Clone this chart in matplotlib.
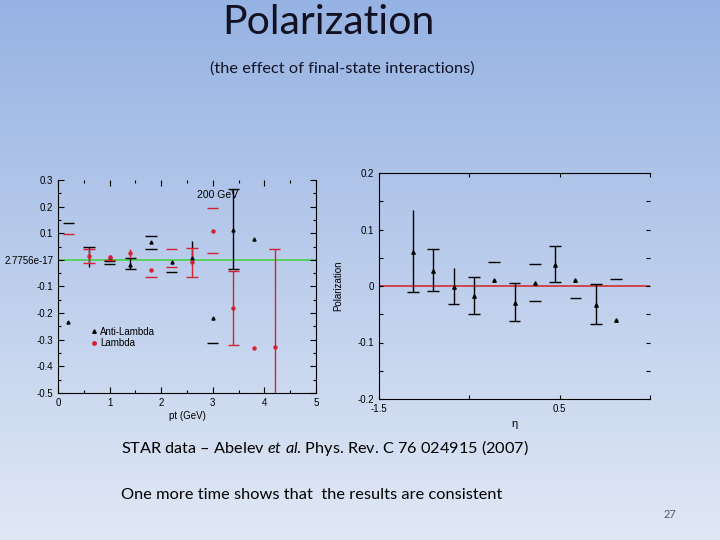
import numpy as np
import matplotlib
matplotlib.use("Agg")
import matplotlib.pyplot as plt
from matplotlib.lines import Line2D
from matplotlib.ticker import FixedLocator, FuncFormatter

# ---- left panel: polarization vs pt (200 GeV) ----
# Anti-Lambda (black triangles)
alam_x = [0.2, 1.0, 1.4, 1.8, 2.2, 2.6, 3.0, 3.4, 3.8]
alam_y = [-0.233, 0.012, -0.019, 0.069, -0.009, 0.006, -0.220, 0.113, 0.079]
alam_bar_x = [0.6, 1.4, 2.6, 3.4]
alam_bar_lo = [-0.026, -0.034, 0.006, -0.035]
alam_bar_hi = [0.048, 0.006, 0.071, 0.265]
alam_cap_x = [0.2, 0.6, 1.0, 1.0, 1.4, 1.4, 1.8, 1.8, 2.2, 3.0, 3.4, 3.4]
alam_cap_y = [0.140, 0.048, -0.004, -0.015, 0.006, -0.034, 0.091, 0.041,
              -0.045, -0.312, 0.265, -0.035]

# Lambda (red dots)
lam_x = [0.6, 1.0, 1.4, 1.8, 2.6, 3.0, 3.4, 3.8, 4.2]
lam_y = [0.016, 0.010, 0.025, -0.038, -0.009, 0.109, -0.182, -0.330, -0.329]
lam_bar_x = [0.6, 1.4, 2.6, 3.4, 4.2]
lam_bar_lo = [-0.011, 0.006, -0.063, -0.320, -0.600]
lam_bar_hi = [0.041, 0.041, 0.044, -0.040, 0.041]
lam_cap_x = [0.2, 0.6, 0.6, 1.0, 1.8, 2.2, 2.2, 2.6, 2.6, 3.0, 3.0, 3.4, 3.4, 4.2]
lam_cap_y = [0.096, 0.041, -0.011, -0.002, -0.063, 0.041, -0.027, 0.044,
             -0.063, 0.193, 0.025, -0.040, -0.320, 0.041]

left_yticks = [0.3, 0.2, 0.1, 0.0, -0.1, -0.2, -0.3, -0.4, -0.5]

# ---- right panel: polarization vs eta ----
eta = [-1.125, -0.9, -0.675, -0.45, -0.225, 0.0, 0.225, 0.45, 0.675, 0.9, 1.125]
pol = [0.061, 0.027, -0.001, -0.018, 0.010, -0.030, 0.006, 0.037, 0.010, -0.034, -0.060]
eta_bar_x = [-1.125, -0.9, -0.675, -0.45, 0.0, 0.45, 0.9]
eta_bar_lo = [-0.011, -0.009, -0.032, -0.050, -0.062, 0.007, -0.068]
eta_bar_hi = [0.135, 0.065, 0.032, 0.016, 0.005, 0.071, 0.004]
eta_cap_x = [-1.125, -0.9, -0.9, -0.675, -0.45, -0.45, -0.225, 0.0, 0.0,
             0.225, 0.225, 0.45, 0.45, 0.675, 0.9, 0.9, 1.125]
eta_cap_y = [-0.011, 0.065, -0.009, -0.032, 0.016, -0.050, 0.042, 0.005, -0.062,
             0.039, -0.027, 0.071, 0.007, -0.021, 0.004, -0.068, 0.013]

RED = "#d42232"
SLIDE_FONT = ["Lato", "DejaVu Sans"]
plt.rcParams["font.family"] = ["Liberation Sans", "DejaVu Sans"]
plt.rcParams["mathtext.fontset"] = "custom"
plt.rcParams["mathtext.rm"] = "Lato"
plt.rcParams["mathtext.it"] = "Lato:italic"

fig = plt.figure(figsize=(7.2, 5.4), dpi=100)

# slide background gradient
bg = fig.add_axes([0, 0, 1, 1], zorder=-10)
grad = np.linspace(0, 1, 256).reshape(-1, 1)
top = np.array([0.59, 0.70, 0.89])
bot = np.array([0.88, 0.91, 0.96])
img = top + (bot - top) * grad[:, :, None]
bg.imshow(img, aspect="auto", extent=[0, 1, 0, 1])
bg.axis("off")

# ---------- left axes ----------
ax1 = fig.add_axes([58 / 720, 1 - 393 / 540, 258 / 720, 213 / 540])
ax1.patch.set_alpha(0)
ax1.set_xlim(0, 5)
ax1.set_ylim(-0.5, 0.3)
ax1.axhline(0, color="#3cd23c", lw=1.1, zorder=1)

w = 0.22
ax1.vlines(alam_bar_x, alam_bar_lo, alam_bar_hi, color="black", lw=1)
ax1.hlines(alam_cap_y, np.array(alam_cap_x) - w / 2, np.array(alam_cap_x) + w / 2,
           color="black", lw=1)
ax1.vlines(lam_bar_x, lam_bar_lo, lam_bar_hi, color=RED, lw=1)
ax1.hlines(lam_cap_y, np.array(lam_cap_x) - w / 2, np.array(lam_cap_x) + w / 2,
           color=RED, lw=1)
ax1.plot(alam_x, alam_y, "^", color="black", ms=2.2, ls="none")
ax1.plot(lam_x, lam_y, "o", color=RED, ms=2.2, ls="none")

ax1.text(2.69, 0.244, "200 GeV", fontsize=7.5, ha="left", va="center")

ax1.spines["top"].set_visible(False)
ax1.yaxis.set_major_locator(FixedLocator(left_yticks))
ax1.yaxis.set_minor_locator(FixedLocator(np.arange(-0.45, 0.3, 0.1)))
ax1.yaxis.set_major_formatter(FuncFormatter(
    lambda v, p: "2.7756e-17" if abs(v) < 1e-9 else f"{v:.1f}"))
ax1.xaxis.set_major_locator(FixedLocator([0, 1, 2, 3, 4, 5]))
ax1.xaxis.set_minor_locator(FixedLocator(np.arange(0.5, 5, 1.0)))
ax1.tick_params(axis="both", which="both", direction="in", labelsize=7,
                top=True, right=True, width=0.8)
ax1.tick_params(which="major", length=4)
ax1.tick_params(which="minor", length=2)
ax1.set_xlabel("pt (GeV)", fontsize=7, labelpad=2)

handles = [Line2D([], [], marker="^", color="black", ls="none", ms=2.5),
           Line2D([], [], marker="o", color=RED, ls="none", ms=2.5)]
ax1.legend(handles, ["Anti-Lambda", "Lambda"], loc="upper left",
           bbox_to_anchor=(0.11, 0.335), frameon=False, fontsize=7,
           handlelength=0.6, handletextpad=0.3, labelspacing=0.15,
           borderpad=0)

# ---------- right axes ----------
ax2 = fig.add_axes([379 / 720, 1 - 399 / 540, 271 / 720, 226 / 540])
ax2.patch.set_alpha(0)
ax2.set_xlim(-1.5, 1.5)
ax2.set_ylim(-0.2, 0.2)
ax2.axhline(0, color="#d42020", lw=1.1, zorder=1)

w2 = 0.13
ax2.vlines(eta_bar_x, eta_bar_lo, eta_bar_hi, color="black", lw=1)
ax2.hlines(eta_cap_y, np.array(eta_cap_x) - w2 / 2, np.array(eta_cap_x) + w2 / 2,
           color="black", lw=1)
ax2.plot(eta, pol, "^", color="black", ms=2.5, ls="none")

ax2.spines["right"].set_visible(False)
ax2.yaxis.set_major_locator(FixedLocator([-0.2, -0.1, 0, 0.1, 0.2]))
ax2.yaxis.set_minor_locator(FixedLocator([-0.15, -0.05, 0.05, 0.15]))
ax2.yaxis.set_major_formatter(FuncFormatter(lambda v, p: f"{v:g}"))
ax2.xaxis.set_major_locator(FixedLocator([-1.5, -0.5, 0.5, 1.5]))
ax2.xaxis.set_major_formatter(FuncFormatter(
    lambda v, p: f"{v:g}" if v in (-1.5, 0.5) else ""))
ax2.tick_params(axis="both", which="both", direction="in", labelsize=7,
                top=True, right=True, width=0.8)
ax2.tick_params(which="major", length=3)
ax2.tick_params(which="minor", length=3)
ax2.set_xlabel("η", fontsize=8, labelpad=4)
ax2.set_ylabel("Polarization", fontsize=7, labelpad=10)

# ---------- slide text ----------
fig.text(328 / 720, 1 - 22 / 540, "Polarization", fontsize=29.5, ha="center",
         va="center", family=SLIDE_FONT, color="#111122")
fig.text(342 / 720, 1 - 69 / 540, "(the effect of final-state interactions)",
         fontsize=11.8, ha="center", va="center", family=SLIDE_FONT,
         color="#111122")
fig.text(121 / 720, 1 - 448 / 540,
         "STAR data – Abelev $\\it{et\\ al}$. Phys. Rev. C 76 024915 (2007)",
         fontsize=11.7, ha="left", va="center", family=SLIDE_FONT)
fig.text(121 / 720, 1 - 495 / 540,
         "One more time shows that  the results are consistent",
         fontsize=11.8, ha="left", va="center", family=SLIDE_FONT)
fig.text(670 / 720, 1 - 514 / 540, "27", fontsize=8, ha="center", va="center",
         color="#555566", family=SLIDE_FONT)

fig.savefig("out.png", dpi=100)
